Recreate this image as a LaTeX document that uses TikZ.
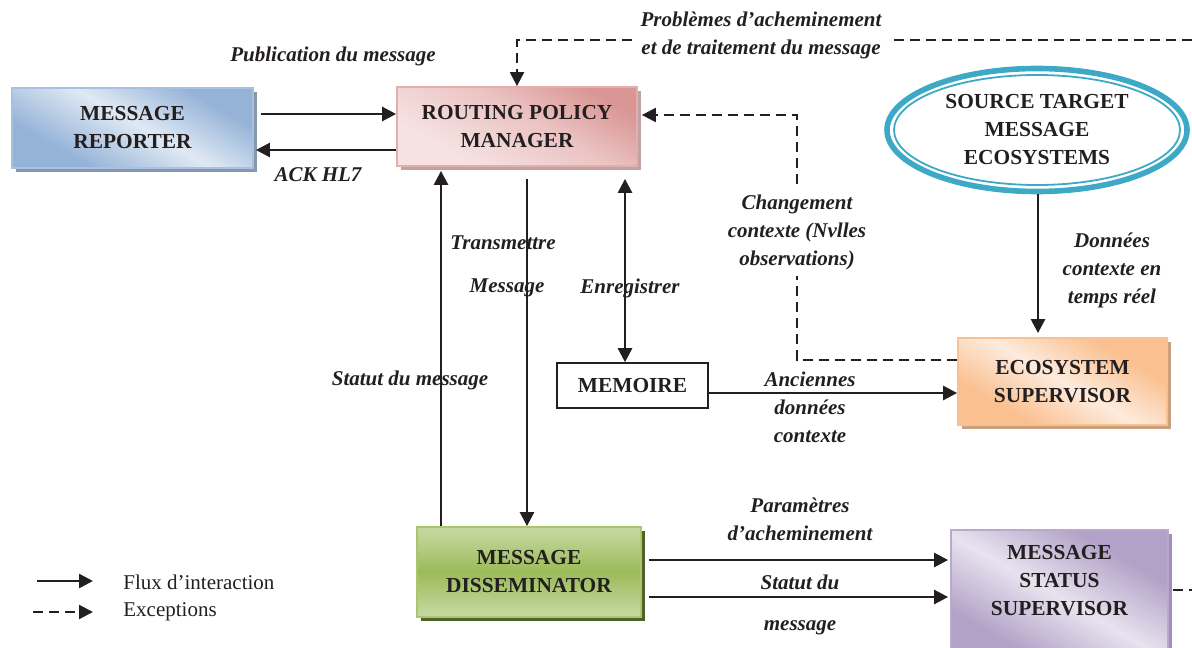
\documentclass[tikz,border=0pt]{standalone}
\usepackage{fontspec}
\setmainfont{Liberation Serif}
\usetikzlibrary{arrows.meta,shapes.geometric,shadows}
\definecolor{ink}{HTML}{231F20}
\definecolor{blueD}{HTML}{95B3D7}
\definecolor{blueL}{HTML}{E0E9F4}
\definecolor{blueB}{HTML}{A7C1E2}
\definecolor{blueS}{HTML}{8797AD}
\definecolor{pinkD}{HTML}{D99694}
\definecolor{pinkL}{HTML}{F6E2E2}
\definecolor{pinkB}{HTML}{E3AEAD}
\definecolor{pinkS}{HTML}{C0A2A2}
\definecolor{orgD}{HTML}{FAC090}
\definecolor{orgL}{HTML}{FDEBDD}
\definecolor{orgB}{HTML}{FAC090}
\definecolor{orgS}{HTML}{C9A07E}
\definecolor{grnD}{HTML}{9BBB59}
\definecolor{grnL}{HTML}{C3D69B}
\definecolor{grnB}{HTML}{A9C56F}
\definecolor{grnS}{HTML}{4F6228}
\definecolor{purD}{HTML}{B3A2C7}
\definecolor{purL}{HTML}{E8E3EF}
\definecolor{purB}{HTML}{B9A9CC}
\definecolor{purS}{HTML}{A08DB8}
\definecolor{teal}{HTML}{3EA9C6}
\pgfdeclarehorizontalshading{shblue}{100bp}{color(0bp)=(blueD); color(30bp)=(blueD); color(52bp)=(blueL); color(72bp)=(blueD); color(100bp)=(blueD)}
\pgfdeclarehorizontalshading{shpink}{100bp}{color(0bp)=(pinkL); color(30bp)=(pinkL); color(55bp)=(pinkL!60!pinkD); color(75bp)=(pinkD); color(100bp)=(pinkD)}
\pgfdeclarehorizontalshading{shorg}{100bp}{color(0bp)=(orgD); color(30bp)=(orgD); color(50bp)=(orgL); color(70bp)=(orgD); color(100bp)=(orgD)}
\pgfdeclarehorizontalshading{shgrn}{100bp}{color(0bp)=(grnL); color(28bp)=(grnL); color(50bp)=(grnD); color(72bp)=(grnL); color(100bp)=(grnL)}
\pgfdeclarehorizontalshading{shpur}{100bp}{color(0bp)=(purD); color(30bp)=(purD); color(50bp)=(purL); color(70bp)=(purD); color(100bp)=(purD)}
\newcommand{\boxfont}{\bfseries\fontsize{10.7}{14}\selectfont}
\newcommand{\labfont}{\bfseries\itshape\fontsize{10.5}{14}\selectfont}
\begin{document}
\begin{tikzpicture}[x=0.5pt,y=-0.5pt,
  box/.style={rectangle, align=center, font=\boxfont, text=ink, inner sep=0pt, line width=0.9pt},
  shad/.style={drop shadow={shadow xshift=2pt, shadow yshift=-2pt, fill=#1, opacity=1}},
  lab/.style={font=\labfont, text=ink, align=center, inner sep=1pt},
  leg/.style={font=\fontsize{10.5}{14}\selectfont, text=ink, anchor=west, inner sep=0pt},
  tip/.tip={Triangle[length=7pt,width=7pt]},
  arr/.style={-tip, line width=1.3pt, draw=ink},
  darr/.style={arr, line width=1.1pt, dash pattern=on 5pt off 3pt},
  dline/.style={line width=1.1pt, draw=ink, dash pattern=on 5pt off 3pt}]
\useasboundingbox (0,0) rectangle (1192,647);

% boxes
\node[box, shad=blueS, shading=shblue, shading angle=60, draw=blueB,
  minimum width=120.5pt, minimum height=40pt] (rep) at (132.5,128) {MESSAGE\\REPORTER};
\node[box, shad=pinkS, shading=shpink, shading angle=60, draw=pinkB,
  minimum width=120pt, minimum height=39.5pt] (rpm) at (517,126.5) {ROUTING POLICY\\MANAGER};
\node[box, shad=orgS, shading=shorg, shading angle=60, draw=orgB,
  minimum width=104.5pt, minimum height=43.5pt] (eco) at (1062.5,381.5) {ECOSYSTEM\\SUPERVISOR};
\node[box, draw=ink, fill=white, line width=0.8pt,
  minimum width=75.5pt, minimum height=22.5pt] (mem) at (632.5,385.5) {MEMOIRE};
\node[box, shad=grnS, shading=shgrn, shading angle=90, draw=grnB,
  minimum width=112pt, minimum height=45pt] (dis) at (529,572) {MESSAGE\\DISSEMINATOR};
\node[box, shad=purS, shading=shpur, shading angle=60, draw=purB,
  minimum width=108.5pt, minimum height=67.5pt] (stat) at (1059.5,597.5) {};
\node[box] (statt) at (1059.5,581) {MESSAGE\\STATUS\\SUPERVISOR};

% ellipse
\node[ellipse, draw=teal, line width=2.8pt, minimum width=150pt, minimum height=61.5pt,
  align=center, font=\boxfont, text=ink, inner sep=0pt] (src) at (1037,130) {SOURCE TARGET\\MESSAGE\\ECOSYSTEMS};
\draw[teal, line width=0.9pt] (src.center) ellipse [x radius=143, y radius=55];

% connectors
\draw[arr] ([xshift=3.5pt]rep.east |- 0,114) -- (rpm.west |- 0,114);
\draw[arr] (rpm.west |- 0,150) -- ([xshift=1pt]rep.east |- 0,150);
\coordinate (topR) at (1192,40);
\draw[darr] (topR) -| (rpm.north);
\draw[darr] (eco.west |- 0,360) -| (797,115) -- ([xshift=2pt]rpm.east |- 0,115);
\draw[arr] ([yshift=-6pt]rpm.south -| 527,0) -- (dis.north -| 527,0);
\draw[arr] (dis.north -| 441,0) -- ([yshift=-2pt]rpm.south -| 441,0);
\draw[tip-tip, line width=1.3pt, draw=ink]
  ([yshift=-6pt]rpm.south -| 625,0) -- (mem.north -| 625,0);
\draw[arr] (mem.east |- 0,393) -- (eco.west |- 0,393);
\draw[arr] (src.south -| 1038,0) -- ([yshift=2pt]eco.north -| 1038,0);
\draw[arr] ([xshift=3.5pt]dis.east |- 0,560) -- ([xshift=-1pt]stat.west |- 0,560);
\draw[arr] ([xshift=3.5pt]dis.east |- 0,597) -- ([xshift=-1pt]stat.west |- 0,597);
\coordinate (exitR) at (1192,590);
\draw[dline] ([xshift=2pt]stat.east |- 0,590) -- (exitR);

% labels
\node[lab] (l1) at (333,56) {Publication du message};
\node[lab] (l2) at (318,175) {ACK HL7};
\node[lab, fill=white, inner xsep=4pt] (l3) at (761,35) {Problèmes d’acheminement\\et de traitement du message};
\node[lab, fill=white, inner ysep=3pt] (l4) at (797,232) {Changement\\contexte (Nvlles\\observations)};
\node[lab] (l5) at (503,243) {Transmettre};
\node[lab] (l6) at (507,288) {Message};
\node[lab] (l7) at (630,288) {Enregistrer};
\node[lab] (l8) at (410,380) {Statut du message};
\node[lab] (l9) at (810,407) {Anciennes\\données\\contexte};
\node[lab] (l10) at (1112,270) {Données\\contexte en\\temps réel};
\node[lab] (l11) at (800,519) {Paramètres\\d’acheminement};
\node[lab] (l12) at (800,582) {Statut du};
\node[lab] (l13) at (800,628) {message};

% legend
\coordinate (la1) at (37,581); \coordinate (la2) at (93,581);
\coordinate (lb1) at (33,612); \coordinate (lb2) at (93,612);
\draw[arr] (la1) -- (la2);
\draw[darr] (lb1) -- (lb2);
\node[leg] (lg1) at (123,582) {Flux d’interaction};
\node[leg] (lg2) at (123,612) {Exceptions};
\end{tikzpicture}
\end{document}
